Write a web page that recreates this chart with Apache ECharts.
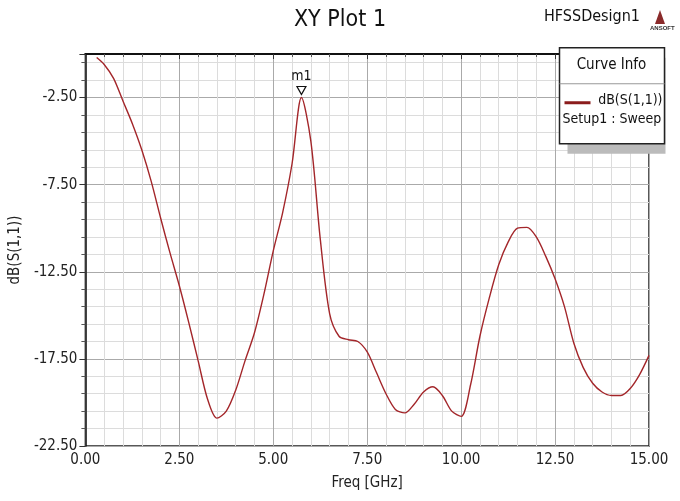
<!DOCTYPE html>
<html>
<head>
<meta charset="utf-8">
<title>XY Plot 1</title>
<script src="https://cdn.jsdelivr.net/npm/echarts@6/dist/echarts.min.js"></script>
<style>
  html, body { margin: 0; padding: 0; background: #fff; }
  #main { width: 680px; height: 501px; }
</style>
</head>
<body>
<div id="main"></div>
<script>
// 频率 (GHz)
var freq = [0.3, 0.5, 0.75, 1.0, 1.25, 1.5, 1.75, 2.0, 2.25, 2.5, 2.75, 3.0, 3.25, 3.5, 3.75,
            4.0, 4.25, 4.5, 4.75, 5.0, 5.25, 5.5, 5.75, 6.0, 6.25, 6.5, 6.75, 7.0, 7.25, 7.5,
            7.75, 8.0, 8.25, 8.5, 8.75, 9.0, 9.25, 9.5, 9.75, 10.0, 10.25, 10.5, 10.75, 11.0, 11.25,
            11.5, 11.75, 12.0, 12.25, 12.5, 12.75, 13.0, 13.25, 13.5, 13.75, 14.0, 14.25, 14.5, 14.75, 15.0];
// dB(S(1,1))
var s11 = [-0.2, -0.6, -1.4, -2.7, -4.0, -5.5, -7.3, -9.4, -11.4, -13.3, -15.4, -17.6, -19.8, -20.9, -20.5,
           -19.3, -17.6, -16.0, -13.8, -11.3, -9.1, -6.3, -2.5, -5.0, -10.6, -14.9, -16.2, -16.4, -16.5, -17.1,
           -18.3, -19.5, -20.4, -20.6, -20.1, -19.4, -19.1, -19.6, -20.5, -20.8, -19.0, -16.2, -14.0, -12.1, -10.8,
           -10.0, -9.95, -10.5, -11.6, -12.9, -14.5, -16.6, -18.0, -18.9, -19.4, -19.6, -19.6, -19.2, -18.4, -17.3];
// 标记 m1
var marker = [5.75, -2.5];

var narrow = "'Liberation Sans Narrow', 'DejaVu Sans Condensed', 'Liberation Sans', sans-serif";

var pts = freq.map(function (f, i) { return [f, s11[i]]; });

var myChart = echarts.init(document.getElementById('main'));
var option = {
    backgroundColor: '#fff',
    animation: false,
    title: {
        text: 'XY Plot 1',
        left: 'center',
        top: 4,
        textStyle: { fontFamily: narrow, fontSize: 23, fontWeight: 'normal', color: '#111' }
    },
    grid: {
        left: 84, right: 31, top: 54, bottom: 55,
        show: true, borderColor: '#222', borderWidth: 1.5, backgroundColor: '#fff'
    },
    xAxis: {
        type: 'value',
        min: 0, max: 15, interval: 2.5,
        name: 'Freq [GHz]',
        nameLocation: 'middle',
        nameGap: 30,
        nameTextStyle: { fontFamily: narrow, fontSize: 15, color: '#222' },
        axisLine: { lineStyle: { color: '#111', width: 2 } },
        axisTick: { show: true, length: 5, lineStyle: { color: '#333' } },
        minorTick: { show: true, splitNumber: 5, length: 3, lineStyle: { color: '#555' } },
        axisLabel: {
            fontFamily: narrow, fontSize: 15, color: '#222', margin: 7,
            formatter: function (v) { return v.toFixed(2); }
        },
        splitLine: { show: true, lineStyle: { color: '#aaa', width: 1 } },
        minorSplitLine: { show: true, lineStyle: { color: '#dcdcdc', width: 1 } }
    },
    yAxis: {
        type: 'value',
        min: -22.5, max: 0, interval: 5,
        name: 'dB(S(1,1))',
        nameLocation: 'middle',
        nameGap: 62,
        nameTextStyle: { fontFamily: narrow, fontSize: 15, color: '#222' },
        axisLine: { show: true, lineStyle: { color: '#111', width: 1.5 } },
        axisTick: { show: true, length: 6, lineStyle: { color: '#333' } },
        minorTick: { show: true, splitNumber: 5, length: 4, lineStyle: { color: '#555' } },
        axisLabel: {
            fontFamily: narrow, fontSize: 15, color: '#222', margin: 8,
            showMaxLabel: false,
            formatter: function (v) { return v.toFixed(2); }
        },
        splitLine: { show: true, lineStyle: { color: '#aaa', width: 1 } },
        minorSplitLine: { show: true, lineStyle: { color: '#dcdcdc', width: 1 } }
    },
    series: [{
        name: 'dB(S(1,1))',
        type: 'line',
        data: pts,
        smooth: 0.3,
        symbol: 'none',
        lineStyle: { color: '#a3262a', width: 1.4 },
        markPoint: {
            symbol: 'triangle',
            symbolRotate: 180,
            symbolSize: [9, 8],
            symbolOffset: [0, -7],
            itemStyle: { color: '#fff', borderColor: '#111', borderWidth: 1.2 },
            label: {
                show: true, position: 'top', distance: 3,
                formatter: 'm1',
                fontFamily: narrow, fontSize: 14, color: '#111'
            },
            data: [{ coord: marker }]
        }
    }],
    graphic: [
        {
            type: 'text', right: 40, top: 9, z: 100,
            style: { text: 'HFSSDesign1', font: '16px ' + narrow, fill: '#111' }
        },
        {
            type: 'polygon', z: 100, shape: { points: [[660, 10], [655, 24], [665, 24]] },
            style: { fill: '#8a2a2a' }
        },
        {
            type: 'text', left: 650, top: 25, z: 100,
            style: { text: 'ANSOFT', font: 'bold 6px sans-serif', fill: '#333' }
        },
        // Curve Info 图注
        {
            type: 'group', left: 557, top: 47, z: 100,
            children: [
                { type: 'rect', z: 100, shape: { x: 8, y: 10, width: 98, height: 96 }, style: { fill: '#bbb' } },
                { type: 'rect', z: 101, shape: { x: 0, y: 0, width: 105, height: 96 }, style: { fill: '#fff', stroke: '#222', lineWidth: 1.5 } },
                { type: 'text', z: 102, x: 52, y: 10, style: { text: 'Curve Info', font: '15px ' + narrow, fill: '#111', align: 'center' } },
                { type: 'line', z: 102, shape: { x1: 0, y1: 36, x2: 105, y2: 36 }, style: { stroke: '#999', lineWidth: 1 } },
                { type: 'line', z: 102, shape: { x1: 5, y1: 55, x2: 31, y2: 55 }, style: { stroke: '#8b1c1c', lineWidth: 3 } },
                { type: 'text', z: 102, x: 103, y: 46, style: { text: 'dB(S(1,1))', font: '14px ' + narrow, fill: '#111', align: 'right' } },
                { type: 'text', z: 102, x: 3, y: 65, style: { text: 'Setup1 : Sweep', font: '14px ' + narrow, fill: '#111' } }
            ]
        }
    ]
};
myChart.setOption(option);
window.onresize = myChart.resize;
</script>
</body>
</html>
